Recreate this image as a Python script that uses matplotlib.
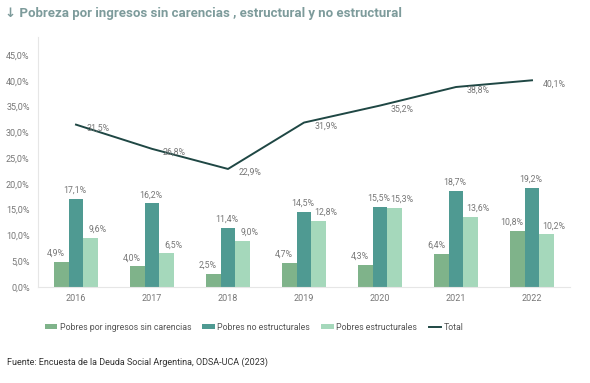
import numpy as np
import matplotlib
matplotlib.use("Agg")
from matplotlib import pyplot as plt

years = ["2016", "2017", "2018", "2019", "2020", "2021", "2022"]
sinCarencias = [4.9, 4.0, 2.5, 4.7, 4.3, 6.4, 10.8]
noEstructurales = [17.1, 16.2, 11.4, 14.5, 15.5, 18.7, 19.2]
estructurales = [9.6, 6.5, 9.0, 12.8, 15.3, 13.6, 10.2]
total = [31.5, 26.8, 22.9, 31.9, 35.2, 38.8, 40.1]
yTicks = [0, 5, 10, 15, 20, 25, 30, 35, 40, 45]

colSin = "#7fb38a"
colNo = "#4f9a92"
colEst = "#a5d8bb"
colTotal = "#1f4744"
textCol = "#777777"

plt.rcParams['font.family'] = ['Roboto', 'DejaVu Sans']

def fmt(v):
    return ("%.1f%%" % v).replace(".", ",")

fig = plt.figure(figsize=(5.9, 3.83), dpi=100)
ax = fig.add_axes([38 / 590, 1 - 287 / 383, 532 / 590, 250 / 383])

x = np.arange(len(years))
w = 0.19
b1 = ax.bar(x - w, sinCarencias, w, color=colSin, label="Pobres por ingresos sin carencias")
b2 = ax.bar(x, noEstructurales, w, color=colNo, label="Pobres no estructurales")
b3 = ax.bar(x + w, estructurales, w, color=colEst, label="Pobres estructurales")
l1, = ax.plot(x, total, color=colTotal, lw=1.4, label="Total")

for i in range(len(years)):
    ax.annotate(fmt(sinCarencias[i]), (x[i] - w, sinCarencias[i]), xytext=(-4, 3),
                textcoords="offset points", ha="center", va="bottom", fontsize=6.3, color=textCol)
    ax.annotate(fmt(noEstructurales[i]), (x[i], noEstructurales[i]), xytext=(-1, 3),
                textcoords="offset points", ha="center", va="bottom", fontsize=6.3, color=textCol)
    ax.annotate(fmt(estructurales[i]), (x[i] + w, estructurales[i]), xytext=(5, 3),
                textcoords="offset points", ha="center", va="bottom", fontsize=6.3, color=textCol)
    ax.annotate(fmt(total[i]), (x[i], total[i]), xytext=(7.5, -2.5),
                textcoords="offset points", ha="left", va="center", fontsize=6.3, color=textCol)

ax.set_xlim(-0.5, len(years) - 0.5)
ax.set_ylim(0, 48.5)
ax.set_yticks(yTicks)
ax.set_yticklabels([fmt(t) for t in yTicks])
ax.set_xticks(x)
ax.set_xticklabels(years)
ax.tick_params(axis="both", length=0, labelsize=6.5, labelcolor=textCol)
ax.tick_params(axis="y", pad=6)
ax.tick_params(axis="x", pad=5)
for s in ["top", "right"]:
    ax.spines[s].set_visible(False)
ax.spines["left"].set_color("#e6e6e6")
ax.spines["bottom"].set_color("#e6e6e6")

fig.legend([b1, b2, b3, l1], [b1.get_label(), b2.get_label(), b3.get_label(), l1.get_label()],
           loc="center", bbox_to_anchor=(254 / 590, 1 - 327 / 383), ncol=4, frameon=False,
           fontsize=6.3, labelcolor="#555555", handlelength=1.4, handleheight=0.6,
           columnspacing=1.3, handletextpad=0.3)

fig.text(5 / 590, 1 - 14 / 383, "\u2193 Pobreza por ingresos sin carencias , estructural y no estructural",
         fontsize=9.5, fontweight="bold", color="#7d9b9b", va="center", ha="left")
fig.text(7 / 590, 1 - 362 / 383, "Fuente: Encuesta de la Deuda Social Argentina, ODSA-UCA (2023)",
         fontsize=6.5, color="#333333", va="center", ha="left")

plt.savefig("out.png", dpi=100)
